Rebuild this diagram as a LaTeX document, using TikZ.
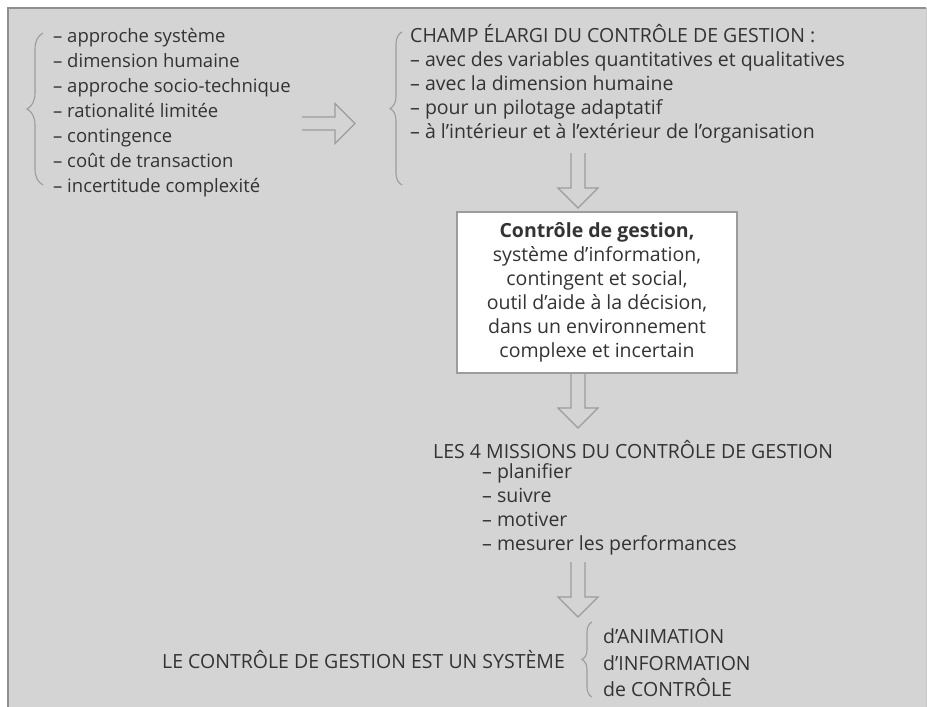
\documentclass[tikz,border=0pt]{standalone}
\usepackage{fontspec}
\setmainfont{Open Sans}
\usetikzlibrary{decorations.pathreplacing,calc}
\definecolor{panel}{HTML}{D4D4D4}
\definecolor{rim}{HTML}{8F8F8F}
\definecolor{ink}{HTML}{333333}
\definecolor{strokegray}{HTML}{9C9C9C}
\tikzset{txt/.style = {inner sep=0pt, text=ink, align=left, font=\fontsize{19.5}{24}\selectfont},
  hollow/.style = {draw=strokegray, line width=1.1pt, line join=miter},
  curly/.style = {draw=strokegray, line width=1.1pt, decorate, decoration={brace, amplitude=#1}}}

% block arrows, open at the tail
\newcommand{\hollowdown}[2]{%
  \draw[hollow] let \p1=(#1), \p2=(#2) in
    (\x1-7pt,\y1) -- (\x1-7pt,\y2+20pt) -- (\x1-20pt,\y2+20pt) -- (\x1,\y2)
    -- (\x1+20pt,\y2+20pt) -- (\x1+7pt,\y2+20pt) -- (\x1+7pt,\y1);}
\newcommand{\hollowright}[2]{%
  \draw[hollow] let \p1=(#1), \p2=(#2) in
    (\x1,\y1+6.5pt) -- (\x2-20pt,\y1+6.5pt) -- (\x2-20pt,\y1+20pt) -- (\x2,\y1)
    -- (\x2-20pt,\y1-20pt) -- (\x2-20pt,\y1-6.5pt) -- (\x1,\y1-6.5pt);}

\begin{document}
\begin{tikzpicture}[x=1pt, y=-1pt]
  \useasboundingbox (0,0) rectangle (927,707);
  \fill[panel] (8,8) rectangle (927,707);
  \draw[rim, line width=2pt] (8,707) -- (8,8) -- (926,8);
  \draw[rim!50, line width=1pt] (926,8) -- (926,707);

  \node[txt, anchor=west, font=\fontsize{18.5}{25}\selectfont] (theories) at (53,113)
    {– approche système\\– dimension humaine\\– approche socio-technique\\– rationalité limitée\\– contingence\\– coût de transaction\\– incertitude complexité};
  \node[txt, anchor=west] (champ) at (410,84)
    {CHAMP ÉLARGI DU CONTRÔLE DE GESTION :\\– avec des variables quantitatives et qualitatives\\– avec la dimension humaine\\– pour un pilotage adaptatif\\– à l’intérieur et à l’extérieur de l’organisation};
  \node[txt, draw=strokegray, fill=white, line width=1.1pt, align=center,
    minimum width=280pt, minimum height=161pt] (cdg) at (597,292.5)
    {\textbf{Contrôle de gestion,}\\système d’information,\\contingent et social,\\outil d’aide à la décision,\\dans un environnement\\complexe et incertain};
  \node[txt, anchor=west] (missions) at (433,450) {LES 4 MISSIONS DU CONTRÔLE DE GESTION};
  \node[txt, anchor=west] (tasks) at (482,509)
    {– planifier\\– suivre\\– motiver\\– mesurer les performances};
  \node[txt, anchor=west] (systeme) at (162,660) {LE CONTRÔLE DE GESTION EST UN SYSTÈME};
  \node[txt, anchor=west, font=\fontsize{19.5}{26.5}\selectfont] (roles) at (603,663)
    {d’ANIMATION\\d’INFORMATION\\de CONTRÔLE};

  \draw[curly=16pt] (43,185) -- (43,33);
  \draw[curly=12pt] (402,185) -- (402,32);
  \draw[curly=10pt] (592,697) -- (592,622);

  \coordinate (r1) at (302,123.5);
  \coordinate (r2) at (355,123.5);
  \coordinate (d1) at (578,153);
  \coordinate (d2) at (578,208);
  \coordinate (d3) at (cdg.south -| d1);
  \coordinate (d4) at (578,428);
  \coordinate (d5) at (578,562);
  \coordinate (d6) at (578,617);
  \hollowright{r1}{r2}
  \hollowdown{d1}{d2}
  \hollowdown{d3}{d4}
  \hollowdown{d5}{d6}
\end{tikzpicture}
\end{document}
